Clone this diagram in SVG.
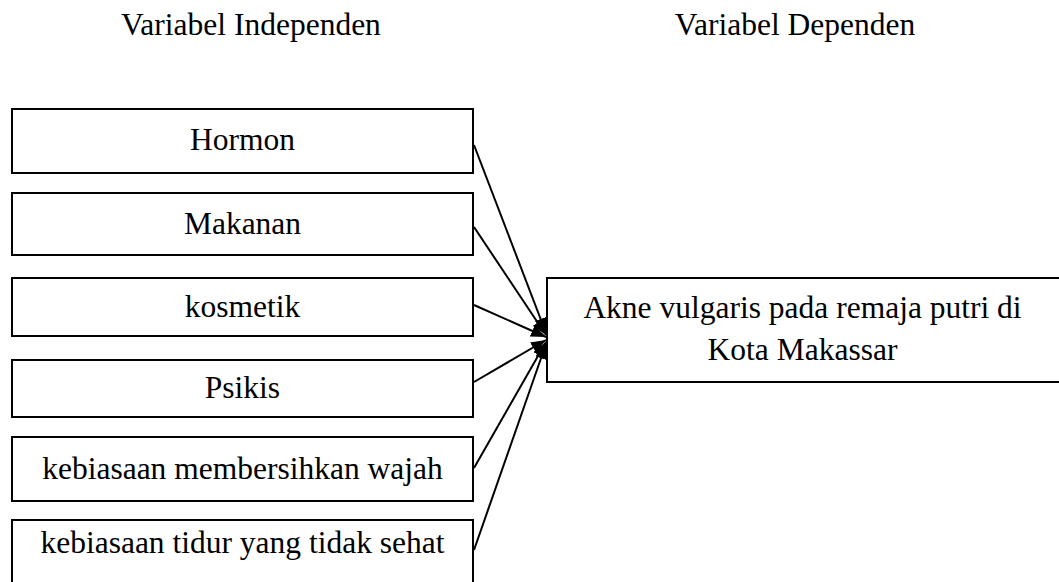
<svg xmlns="http://www.w3.org/2000/svg" width="1059" height="582" viewBox="0 0 1059 582">
<style>
.box{fill:#fff;stroke:#000;stroke-width:2}
.t{font-family:"Liberation Serif","Times New Roman",serif;font-size:31.5px;fill:#000;text-anchor:middle}
.c{stroke:#000;stroke-width:2;fill:none;marker-end:url(#ah)}
</style>
<defs>
<marker id="ah" markerUnits="userSpaceOnUse" markerWidth="15" markerHeight="12" refX="15" refY="6" orient="auto">
<path d="M0,0 L15,6 L0,12 z" fill="#000"/>
</marker>
</defs>
<g id="headers">
<text class="t" x="251" y="35">Variabel Independen</text>
<text class="t" x="795" y="35">Variabel Dependen</text>
</g>
<g id="n-hormon"><rect class="box" x="12" y="109" width="461" height="64"/><text class="t" x="242.5" y="150">Hormon</text></g>
<g id="n-makanan"><rect class="box" x="12" y="193" width="461" height="62"/><text class="t" x="242.5" y="233.5">Makanan</text></g>
<g id="n-kosmetik"><rect class="box" x="12" y="278" width="461" height="58"/><text class="t" x="242.5" y="316.5">kosmetik</text></g>
<g id="n-psikis"><rect class="box" x="12" y="360" width="461" height="57"/><text class="t" x="242.5" y="398">Psikis</text></g>
<g id="n-wajah"><rect class="box" x="12" y="437" width="461" height="64"/><text class="t" x="242.5" y="478.5">kebiasaan membersihkan wajah</text></g>
<g id="n-tidur"><rect class="box" x="12" y="520" width="461" height="70"/><text class="t" x="242.5" y="553">kebiasaan tidur yang tidak sehat</text></g>
<g id="n-akne"><rect class="box" x="547" y="278" width="520" height="104"/><text class="t" x="802.5" y="318">Akne vulgaris pada remaja putri di</text><text class="t" x="802.5" y="360">Kota Makassar</text></g>
<g id="connectors">
<line class="c" x1="474" y1="145" x2="546" y2="333"/>
<line class="c" x1="474" y1="227" x2="546" y2="335"/>
<line class="c" x1="474" y1="305" x2="546" y2="337"/>
<line class="c" x1="474" y1="382" x2="546" y2="340"/>
<line class="c" x1="474" y1="468" x2="546" y2="342"/>
<line class="c" x1="474" y1="550" x2="546" y2="344"/>
</g>
</svg>
